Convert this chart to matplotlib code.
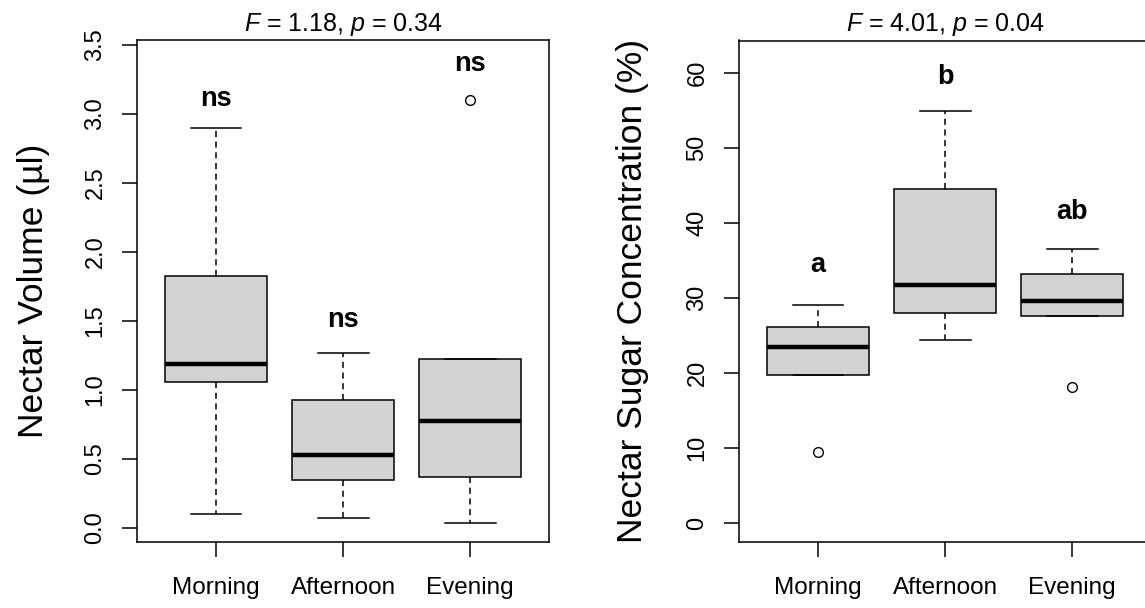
import matplotlib
matplotlib.use('Agg')
import matplotlib.pyplot as plt

plt.rcParams['font.family'] = ['Liberation Sans', 'DejaVu Sans']
plt.rcParams['mathtext.fontset'] = 'custom'
plt.rcParams['mathtext.rm'] = 'Liberation Sans'
plt.rcParams['mathtext.it'] = 'Liberation Sans:italic'

groups = ['Morning', 'Afternoon', 'Evening']

# nectar volume (µl), box summaries
vol_whislo = [0.10, 0.07, 0.034]
vol_q1 = [1.06, 0.35, 0.366]
vol_med = [1.19, 0.53, 0.775]
vol_q3 = [1.825, 0.93, 1.225]
vol_whishi = [2.90, 1.27, 1.225]
vol_fliers = [[], [], [3.10]]
vol_letters = ['ns', 'ns', 'ns']
vol_letter_y = [3.11, 1.51, 3.36]

# nectar sugar concentration (%)
sug_whislo = [19.76, 24.47, 27.68]
sug_q1 = [19.76, 28.04, 27.68]
sug_med = [23.54, 31.7, 29.6]
sug_q3 = [26.13, 44.6, 33.26]
sug_whishi = [29.07, 55.0, 36.6]
sug_fliers = [[9.47], [], [18.2]]
sug_letters = ['a', 'b', 'ab']
sug_letter_y = [34.4, 59.5, 41.5]

W, H = 1145, 608
fig = plt.figure(figsize=(W / 100, H / 100), dpi=100)


def px_axes(left, top, right, bottom):
    return fig.add_axes([left / W, 1 - bottom / H, (right - left) / W, (bottom - top) / H])


def draw_panel(ax, whislo, q1, med, q3, whishi, fliers, letters, letter_y,
               ylabel, title, ylim, yticks, yticklabels, labelpad):
    stats = []
    for i in range(len(groups)):
        stats.append(dict(whislo=whislo[i], q1=q1[i], med=med[i], q3=q3[i],
                          whishi=whishi[i], fliers=fliers[i], label=groups[i]))
    ax.bxp(stats, positions=[1, 2, 3], widths=0.8, capwidths=0.4,
           patch_artist=True, showfliers=True,
           boxprops=dict(facecolor='#d3d3d3', edgecolor='black', linewidth=1.1),
           medianprops=dict(color='black', linewidth=3.2, solid_capstyle='butt'),
           whiskerprops=dict(color='black', linewidth=1.1, linestyle=(0, (4, 3))),
           capprops=dict(color='black', linewidth=1.1),
           flierprops=dict(marker='o', markerfacecolor='none', markeredgecolor='black',
                           markersize=7, markeredgewidth=1.0))
    for i, lab in enumerate(letters):
        ax.text(i + 1, letter_y[i], lab, ha='center', va='center',
                fontsize=19.5, fontweight='bold')
    ax.set_xlim(0.38, 3.62)
    ax.set_ylim(*ylim)
    ax.set_yticks(yticks)
    ax.set_yticklabels(yticklabels)
    ax.set_ylabel(ylabel, fontsize=25.5, labelpad=labelpad)
    ax.set_title(title, fontsize=18, pad=6.5)
    ax.tick_params(axis='x', length=10.8, width=1.1, pad=15, labelsize=17.5)
    ax.tick_params(axis='y', length=10.8, width=1.1, pad=11.4, labelsize=17,
                   labelrotation=90)
    for lbl in ax.get_yticklabels():
        lbl.set_va('center')
    for s in ax.spines.values():
        s.set_linewidth(1.1)


ax1 = px_axes(137.3, 40, 549, 541.5)
draw_panel(ax1, vol_whislo, vol_q1, vol_med, vol_q3, vol_whishi, vol_fliers,
           vol_letters, vol_letter_y, 'Nectar Volume (µl)',
           r'$\it{F}$ = 1.18, $\it{p}$ = 0.34', (-0.099, 3.536),
           [0, 0.5, 1.0, 1.5, 2.0, 2.5, 3.0, 3.5],
           ['0.0', '0.5', '1.0', '1.5', '2.0', '2.5', '3.0', '3.5'], 24.5)

ax2 = px_axes(739.3, 40.5, 1151, 541.5)
draw_panel(ax2, sug_whislo, sug_q1, sug_med, sug_q3, sug_whishi, sug_fliers,
           sug_letters, sug_letter_y, 'Nectar Sugar Concentration (%)',
           r'$\it{F}$ = 4.01, $\it{p}$ = 0.04', (-2.44, 64.35),
           [0, 10, 20, 30, 40, 50, 60],
           ['0', '10', '20', '30', '40', '50', '60'], 27)

fig.savefig('out.png', dpi=100)
